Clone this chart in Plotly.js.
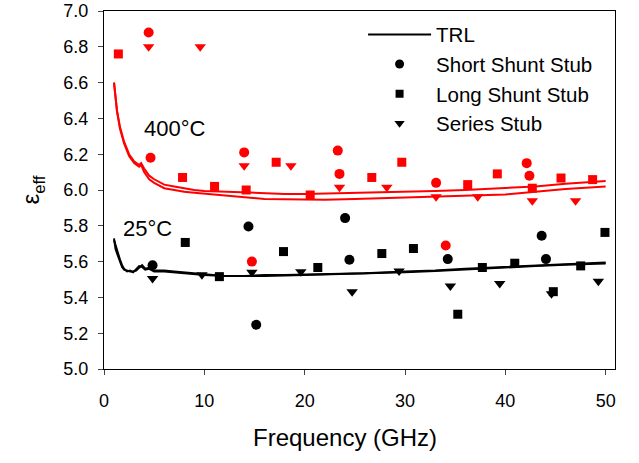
<!DOCTYPE html>
<html><head><meta charset="utf-8">
<script src="https://cdn.plot.ly/plotly-3.0.1.min.js"></script>
<style>html,body{margin:0;padding:0;background:#fff}#chart{width:639px;height:463px}</style>
</head><body><div id="chart"></div>
<script>
// TRL lines, 400 °C (two measurements)
const trlHotX = [1.0,1.3,1.6,2.0,2.5,3.0,3.5,3.7,4.0,4.5,5,6,7,8,9,10,12,14,16,18,20,22,25,28,30,33,36,40,43,46,50];
const trlHotA = [6.60,6.44,6.35,6.27,6.20,6.16,6.14,6.15,6.12,6.08,6.06,6.03,6.02,6.01,6.00,5.995,5.99,5.985,5.98,5.978,5.978,5.98,5.985,5.99,5.99,5.995,6.00,6.01,6.02,6.035,6.05];
const trlHotB = [6.60,6.44,6.34,6.26,6.19,6.15,6.13,6.14,6.10,6.06,6.04,6.01,6.00,5.99,5.985,5.98,5.97,5.96,5.95,5.948,5.946,5.946,5.95,5.955,5.958,5.96,5.965,5.975,5.99,6.005,6.02];
// TRL lines, 25 °C
const trlColdX = [1.0,1.15,1.4,1.6,1.8,2.0,2.3,2.6,2.9,3.2,3.5,3.8,4.1,4.5,5,6,7,8,10,12,14,16,18,20,23,26,30,33,36,40,43,46,50];
const trlColdA = [5.73,5.67,5.63,5.60,5.57,5.555,5.55,5.545,5.545,5.55,5.565,5.58,5.56,5.565,5.55,5.55,5.545,5.54,5.53,5.52,5.52,5.525,5.525,5.527,5.53,5.535,5.545,5.55,5.56,5.57,5.58,5.585,5.595];
const trlColdB = [5.72,5.69,5.65,5.61,5.58,5.56,5.545,5.55,5.54,5.555,5.575,5.57,5.555,5.56,5.545,5.545,5.54,5.535,5.525,5.52,5.518,5.52,5.522,5.525,5.528,5.533,5.54,5.548,5.555,5.565,5.575,5.583,5.59];

// 400 °C stubs
const shortHotX = [4.45,4.64,13.97,14.74,23.3,23.47,33.1,34.06,42.13,42.4];
const shortHotY = [6.88,6.18,6.21,5.60,6.22,6.09,6.04,5.69,6.15,6.08];
const longHotX = [1.43,7.83,11.02,14.17,17.16,20.55,26.69,29.68,36.25,39.2,42.69,45.55,48.7];
const longHotY = [6.76,6.07,6.02,6.00,6.155,5.972,6.07,6.155,6.03,6.09,6.01,6.067,6.058];
const seriesHotX = [4.45,9.59,13.97,18.63,23.47,28.19,33.1,37.25,42.69,47.0];
const seriesHotY = [6.80,6.80,6.136,6.136,6.015,6.015,5.962,5.962,5.94,5.94];

// 25 °C stubs
const shortColdX = [4.84,14.4,15.17,24.03,24.46,34.26,43.62,44.05];
const shortColdY = [5.58,5.796,5.247,5.843,5.61,5.614,5.744,5.614];
const longColdX = [8.1,11.5,17.89,21.31,27.69,30.84,35.26,37.71,40.94,44.78,47.51,49.93];
const longColdY = [5.707,5.516,5.656,5.567,5.645,5.673,5.306,5.567,5.591,5.432,5.576,5.763];
const seriesColdX = [4.84,9.76,14.74,19.62,24.73,29.41,34.52,39.44,44.6,49.27];
const seriesColdY = [5.505,5.526,5.54,5.543,5.432,5.548,5.464,5.477,5.42,5.49];

const legendNames = ['TRL','Short Shunt Stub','Long Shunt Stub','Series Stub'];
const xTitle = 'Frequency (GHz)';
const yTitle = 'ε<sub>eff</sub>';

const RED = 'rgb(255,0,0)', BLK = 'rgb(0,0,0)';
const line = (x,y,c) => ({x, y, type:'scatter', mode:'lines', line:{color:c, width:2}, showlegend:false, hoverinfo:'skip'});
const pts = (x,y,c,sym,sz) => ({x, y, type:'scatter', mode:'markers', marker:{color:c, symbol:sym, size:sz}, showlegend:false, cliponaxis:false});
const leg = (name, mode, sym, sz) => ({x:[null], y:[null], type:'scatter', mode, name,
  line:{color:BLK, width:2}, marker:{color:BLK, symbol:sym, size:sz}, showlegend:true});

const data = [
  line(trlHotX, trlHotA, RED), line(trlHotX, trlHotB, RED),
  line(trlColdX, trlColdA, BLK), line(trlColdX, trlColdB, BLK),
  pts(shortHotX, shortHotY, RED, 'circle', 10),
  pts(longHotX, longHotY, RED, 'square', 9),
  pts(seriesHotX, seriesHotY, RED, 'triangle-down', 10),
  pts(shortColdX, shortColdY, BLK, 'circle', 10),
  pts(longColdX, longColdY, BLK, 'square', 9),
  pts(seriesColdX, seriesColdY, BLK, 'triangle-down', 10),
  leg(legendNames[0], 'lines', 'circle', 8),
  leg(legendNames[1], 'markers', 'circle', 9),
  leg(legendNames[2], 'markers', 'square', 8),
  leg(legendNames[3], 'markers', 'triangle-down', 9)
];

const FONT = 'Liberation Sans, Arial, sans-serif';
const layout = {
  width:639, height:463,
  margin:{l:104, r:24, t:11, b:94},
  paper_bgcolor:'#fff', plot_bgcolor:'#fff',
  font:{family:FONT, color:'#000', size:17},
  showlegend:true,
  legend:{x:0.507, y:0.99, xanchor:'left', yanchor:'top', bgcolor:'rgba(0,0,0,0)',
          font:{family:FONT, size:20.5, color:'#000'}, itemwidth:63, tracegroupgap:0},
  xaxis:{range:[0,50.93], tickvals:[0,10,20,30,40,50], ticks:'outside', ticklen:5, tickcolor:'#444',
         showgrid:false, zeroline:false, showline:true, linecolor:'#000', linewidth:1, mirror:true,
         tickfont:{family:FONT, size:18}, ticklabelstandoff:10},
  yaxis:{range:[5,7], tickvals:[5,5.2,5.4,5.6,5.8,6,6.2,6.4,6.6,6.8,7], tickformat:'.1f', ticks:'outside', ticklen:5, tickcolor:'#444',
         showgrid:false, zeroline:false, showline:true, linecolor:'#000', linewidth:1, mirror:true,
         tickfont:{family:FONT, size:18}, ticklabelstandoff:6,
         title:{text:yTitle, font:{family:FONT, size:24}, standoff:16}},
  annotations:[
    {x:0.4716, y:-0.19, xref:'paper', yref:'paper', text:xTitle, showarrow:false, xanchor:'center', yanchor:'middle',
     font:{family:FONT, size:24, color:'#000'}},
    {x:7.1, y:6.343, xref:'x', yref:'y', text:'400°C', showarrow:false, font:{family:FONT, size:22, color:'#000'}},
    {x:4.3, y:5.783, xref:'x', yref:'y', text:'25°C', showarrow:false, font:{family:FONT, size:22, color:'#000'}}
  ]
};
Plotly.newPlot('chart', data, layout, {displayModeBar:false, staticPlot:true});
</script></body></html>
